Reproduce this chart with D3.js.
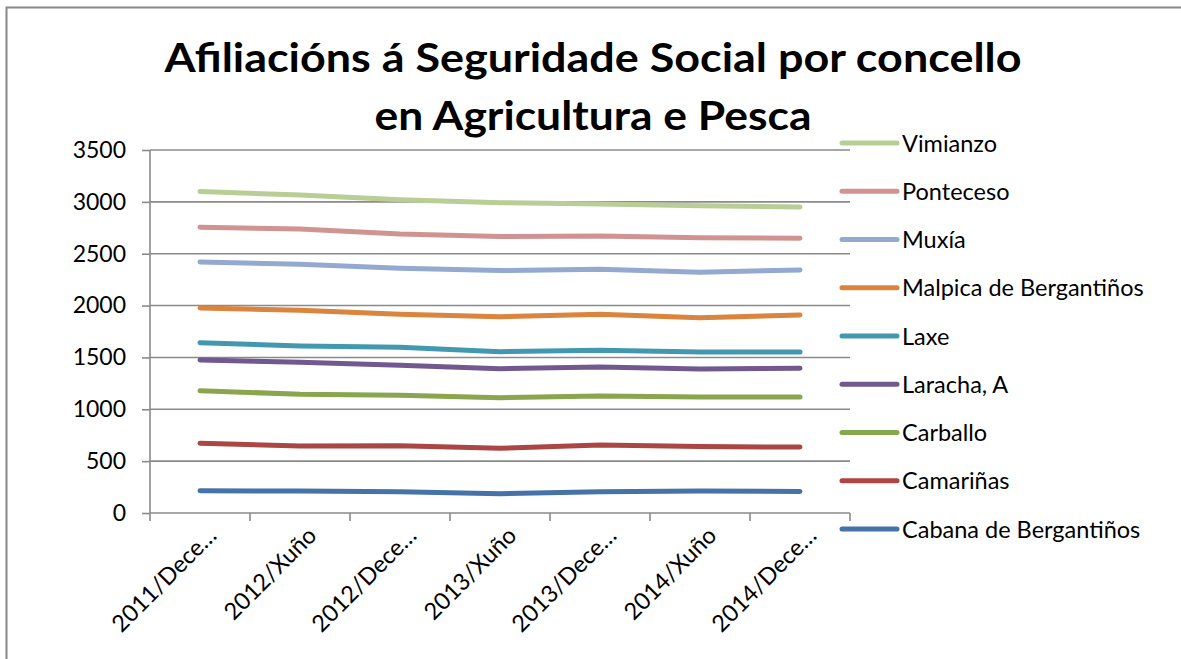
<!DOCTYPE html>
<html>
<head>
<meta charset="utf-8">
<script src="https://d3js.org/d3.v7.min.js"></script>
<style>
  body { margin: 0; background: #fff; }
  text { font-family: Lato, "Open Sans", sans-serif; fill: #000; }
</style>
</head>
<body>
<div class="canvas"></div>
<script>
const periods = ["2011/Dece…", "2012/Xuño", "2012/Dece…", "2013/Xuño", "2013/Dece…", "2014/Xuño", "2014/Dece…"]
const yTicks = [0, 500, 1000, 1500, 2000, 2500, 3000, 3500]

// series in legend order, bottom first
const names = ["Cabana de Bergantiños", "Camariñas", "Carballo", "Laracha, A", "Laxe",
    "Malpica de Bergantiños", "Muxía", "Ponteceso", "Vimianzo"]
const colors = ["#4572A7", "#AA4643", "#89A54E", "#71588F", "#4198AF",
    "#DB843D", "#93A9CF", "#D19392", "#B9CD96"]

const cabana = [215, 211, 205, 186, 205, 211, 208]
const camarinas = [672, 646, 649, 624, 656, 640, 636]
const carballo = [1179, 1145, 1135, 1112, 1128, 1119, 1119]
const laracha = [1475, 1453, 1424, 1392, 1408, 1389, 1395]
const laxe = [1642, 1610, 1598, 1555, 1569, 1553, 1553]
const malpica = [1977, 1955, 1916, 1893, 1916, 1883, 1909]
const muxia = [2420, 2398, 2360, 2337, 2350, 2321, 2343]
const ponteceso = [2755, 2739, 2690, 2665, 2671, 2655, 2649]
const vimianzo = [3100, 3066, 3020, 2992, 2980, 2962, 2951]

const values = [cabana, camarinas, carballo, laracha, laxe, malpica, muxia, ponteceso, vimianzo]
const series = names.map((name, i) => ({ name: name, color: colors[i], values: values[i] }))

const width = 1181
const height = 659

const svg = d3.select(".canvas")
    .append("svg")
    .attr("width", width)
    .attr("height", height)

// chart border (left and top visible)
svg.append("path")
    .attr("d", `M6.5,${height} V7.5 H${width}`)
    .attr("fill", "none")
    .attr("stroke", "#888")
    .attr("stroke-width", 2)

const plot = { left: 150, right: 850, top: 150, bottom: 513 }

const scaleX = d3.scaleBand()
    .domain(periods)
    .range([plot.left, plot.right])

const scaleY = d3.scaleLinear()
    .domain([0, 3500])
    .range([plot.bottom, plot.top])

// gridlines
svg.append("g")
    .selectAll("line")
    .data(yTicks.filter(d => d > 0))
    .enter()
    .append("line")
    .attr("x1", plot.left)
    .attr("x2", plot.right)
    .attr("y1", d => scaleY(d))
    .attr("y2", d => scaleY(d))
    .attr("stroke", "#8a8a8a")
    .attr("stroke-width", 1.6)

const yAxis = d3.axisLeft(scaleY)
    .tickValues(yTicks)
    .tickSize(8)
    .tickPadding(16)
    .tickFormat(d => d)

const yAxisGroup = svg.append("g")
    .attr("transform", `translate(${plot.left}, 0)`)
    .call(yAxis)
yAxisGroup.select(".domain").attr("stroke", "#8a8a8a").attr("stroke-width", 1.6)
    .attr("d", `M0,${plot.top}V${plot.bottom}`)
yAxisGroup.selectAll(".tick line").attr("stroke", "#8a8a8a").attr("stroke-width", 1.6)
yAxisGroup.selectAll("text")
    .attr("font-size", 23)
    .attr("font-family", "Lato, sans-serif")
    .attr("fill", "#000")

// x axis with ticks on band boundaries
const xAxisGroup = svg.append("g")
    .attr("transform", `translate(0, ${plot.bottom})`)
xAxisGroup.append("line")
    .attr("x1", plot.left)
    .attr("x2", plot.right)
    .attr("stroke", "#8a8a8a")
    .attr("stroke-width", 1.6)
const boundaries = periods.map(p => scaleX(p)).concat([plot.right])
xAxisGroup.selectAll(".xtick")
    .data(boundaries)
    .enter()
    .append("line")
    .attr("class", "xtick")
    .attr("x1", d => d)
    .attr("x2", d => d)
    .attr("y1", 0)
    .attr("y2", 8)
    .attr("stroke", "#8a8a8a")
    .attr("stroke-width", 1.6)

xAxisGroup.selectAll(".xlabel")
    .data(periods)
    .enter()
    .append("text")
    .attr("class", "xlabel")
    .attr("text-anchor", "end")
    .attr("font-size", 23.5)
    .attr("transform", d => `translate(${scaleX(d) + scaleX.bandwidth() / 2 + 18}, 24) rotate(-45)`)
    .text(d => d)

// lines
const line = d3.line()
    .x((d, i) => scaleX(periods[i]) + scaleX.bandwidth() / 2)
    .y(d => scaleY(d))

svg.append("g")
    .selectAll("path")
    .data(series)
    .enter()
    .append("path")
    .attr("d", d => line(d.values))
    .attr("fill", "none")
    .attr("stroke", d => d.color)
    .attr("stroke-width", 5)
    .attr("stroke-linecap", "round")
    .attr("stroke-linejoin", "round")

// legend, top entry is last series
const legend = svg.append("g")
const legendItems = legend.selectAll("g")
    .data(series.slice().reverse())
    .enter()
    .append("g")
    .attr("transform", (d, i) => `translate(842, ${143 + i * 48.25})`)
legendItems.append("line")
    .attr("x1", 0)
    .attr("x2", 55)
    .attr("stroke", d => d.color)
    .attr("stroke-width", 5)
    .attr("stroke-linecap", "round")
legendItems.append("text")
    .attr("x", 60)
    .attr("y", 8.5)
    .attr("font-size", 23.5)
    .text(d => d.name)

// title
const title = svg.append("g")
title.append("text")
    .attr("x", 593)
    .attr("y", 72)
    .attr("text-anchor", "middle")
    .attr("font-size", 41)
    .attr("font-weight", "bold")
    .attr("textLength", 857)
    .attr("lengthAdjust", "spacingAndGlyphs")
    .text("Afiliacións á Seguridade Social por concello")
title.append("text")
    .attr("x", 593)
    .attr("y", 130)
    .attr("text-anchor", "middle")
    .attr("font-size", 41)
    .attr("font-weight", "bold")
    .attr("textLength", 437)
    .attr("lengthAdjust", "spacingAndGlyphs")
    .text("en Agricultura e Pesca")
</script>
</body>
</html>
